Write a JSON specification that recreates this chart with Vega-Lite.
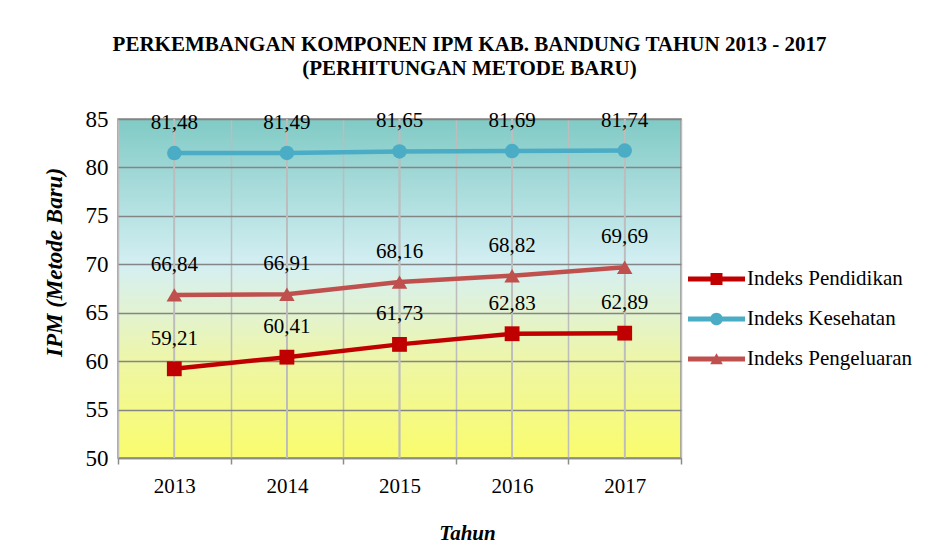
{
  "$schema": "https://vega.github.io/schema/vega-lite/v6.json",
  "width": 563,
  "height": 339,
  "autosize": {"type": "none"},
  "padding": {"left": 118, "top": 119, "right": 252, "bottom": 93},
  "background": "white",
  "config": {
    "font": "Liberation Serif",
    "locale": {"number": {"decimal": ",", "thousands": ".", "grouping": [3], "currency": ["", ""]}}
  },
  "title": {
    "text": ["PERKEMBANGAN KOMPONEN IPM KAB. BANDUNG TAHUN 2013 - 2017", "(PERHITUNGAN METODE BARU)"],
    "font": "Liberation Serif",
    "fontSize": 21,
    "fontWeight": "bold",
    "color": "black",
    "anchor": "middle",
    "dx": 70,
    "offset": 29,
    "lineHeight": 24
  },
  "view": {
    "stroke": "#8C8C8C",
    "strokeWidth": 1.5,
    "fill": {
      "gradient": "linear",
      "x1": 0, "y1": 0, "x2": 0, "y2": 1,
      "stops": [
        {"offset": 0, "color": "#80CAC5"},
        {"offset": 0.43, "color": "#D4EFF3"},
        {"offset": 0.57, "color": "#E2F3D2"},
        {"offset": 0.72, "color": "#EEF6A4"},
        {"offset": 1, "color": "#FAFC6C"}
      ]
    }
  },
  "data": {
    "values": [
      {"year": "2013", "series": "Indeks Pendidikan", "value": 59.21},
      {"year": "2014", "series": "Indeks Pendidikan", "value": 60.41},
      {"year": "2015", "series": "Indeks Pendidikan", "value": 61.73},
      {"year": "2016", "series": "Indeks Pendidikan", "value": 62.83},
      {"year": "2017", "series": "Indeks Pendidikan", "value": 62.89},
      {"year": "2013", "series": "Indeks Kesehatan", "value": 81.48},
      {"year": "2014", "series": "Indeks Kesehatan", "value": 81.49},
      {"year": "2015", "series": "Indeks Kesehatan", "value": 81.65},
      {"year": "2016", "series": "Indeks Kesehatan", "value": 81.69},
      {"year": "2017", "series": "Indeks Kesehatan", "value": 81.74},
      {"year": "2013", "series": "Indeks Pengeluaran", "value": 66.84},
      {"year": "2014", "series": "Indeks Pengeluaran", "value": 66.91},
      {"year": "2015", "series": "Indeks Pengeluaran", "value": 68.16},
      {"year": "2016", "series": "Indeks Pengeluaran", "value": 68.82},
      {"year": "2017", "series": "Indeks Pengeluaran", "value": 69.69}
    ]
  },
  "encoding": {
    "x": {
      "field": "year",
      "type": "nominal",
      "scale": {"type": "band", "paddingInner": 0, "paddingOuter": 0},
      "axis": {
        "title": "Tahun",
        "titleFont": "Liberation Serif",
        "titleFontStyle": "italic",
        "titleFontWeight": "bold",
        "titleFontSize": 21,
        "titleColor": "black",
        "titleX": 349,
        "titlePadding": 26,
        "labelFont": "Liberation Serif",
        "labelFontSize": 21,
        "labelColor": "black",
        "labelAngle": 0,
        "labelPadding": 11,
        "tickSize": 6,
        "tickColor": "#8C8C8C",
        "tickWidth": 1.5,
        "tickBand": "extent",
        "grid": true,
        "gridColor": "#BDBDBD",
        "gridWidth": 1.5,
        "domainColor": "#8C8C8C",
        "domainWidth": 1.5
      }
    },
    "y": {
      "field": "value",
      "type": "quantitative",
      "scale": {"domain": [50, 85], "nice": false, "zero": false},
      "axis": {
        "values": [50, 55, 60, 65, 70, 75, 80, 85],
        "title": "IPM (Metode Baru)",
        "titleFont": "Liberation Serif",
        "titleFontStyle": "italic",
        "titleFontWeight": "bold",
        "titleFontSize": 23,
        "titleColor": "black",
        "titleY": 143,
        "titlePadding": 19,
        "labelFont": "Liberation Serif",
        "labelFontSize": 23,
        "labelColor": "black",
        "labelPadding": 10,
        "ticks": false,
        "domain": false,
        "grid": true,
        "gridColor": "#858585",
        "gridWidth": 1.5
      }
    }
  },
  "layer": [
    {
      "mark": {"type": "rule", "color": "#BDBDBD", "strokeWidth": 1.5},
      "encoding": {"y": null}
    },
    {
      "mark": {"type": "line", "strokeWidth": 4.5},
      "encoding": {
        "stroke": {
          "field": "series",
          "type": "nominal",
          "scale": {"domain": ["Indeks Kesehatan", "Indeks Pendidikan", "Indeks Pengeluaran"], "range": ["#4BACC6", "#C00000", "#C0504D"]},
          "legend": null
        }
      }
    },
    {
      "transform": [{"filter": "datum.series == 'Indeks Pendidikan'"}],
      "mark": {"type": "point", "filled": true, "opacity": 1, "size": 220, "shape": "square"},
      "encoding": {
        "fill": {
          "field": "series",
          "type": "nominal",
          "scale": {"domain": ["Indeks Pengeluaran", "Indeks Kesehatan", "Indeks Pendidikan"], "range": ["#C0504D", "#4BACC6", "#C00000"]},
          "legend": null
        }
      }
    },
    {
      "transform": [{"filter": "datum.series == 'Indeks Kesehatan'"}],
      "mark": {"type": "point", "filled": true, "opacity": 1, "size": 210, "shape": "circle"},
      "encoding": {"fill": {"field": "series", "type": "nominal", "legend": null}}
    },
    {
      "transform": [{"filter": "datum.series == 'Indeks Pengeluaran'"}],
      "mark": {"type": "point", "filled": true, "opacity": 1, "size": 240, "shape": "triangle-up"},
      "encoding": {"fill": {"field": "series", "type": "nominal", "legend": null}}
    },
    {
      "mark": {"type": "text", "dy": -30, "fontSize": 21, "font": "Liberation Serif", "color": "black"},
      "encoding": {
        "text": {"field": "value", "type": "quantitative", "format": ".2f"}
      }
    },
    {
      "transform": [{"filter": "datum.value < 0"}],
      "mark": {"type": "point", "filled": true, "opacity": 1, "size": 3249},
      "encoding": {
        "color": {
          "field": "series",
          "type": "nominal",
          "scale": {"domain": ["Indeks Pendidikan", "Indeks Kesehatan", "Indeks Pengeluaran"], "range": ["#C00000", "#4BACC6", "#C0504D"]},
          "legend": {
            "orient": "none", "legendX": 570, "legendY": 140, "title": null,
            "labelFont": "Liberation Serif", "labelFontSize": 21, "labelColor": "black", "labelLimit": 400,
            "symbolSize": 3249, "symbolStrokeWidth": 0, "labelOffset": 2,
            "rowPadding": 0, "clipHeight": 40, "padding": 0
          }
        },
        "shape": {
          "field": "series",
          "type": "nominal",
          "scale": {
            "domain": ["Indeks Pendidikan", "Indeks Kesehatan", "Indeks Pengeluaran"],
            "range": [
              "M-1,-0.085H1V0.085H-1Z M-0.21,-0.21H0.21V0.21H-0.21Z",
              "M-1,-0.085H1V0.085H-1Z M0.22,0 A0.22,0.22 0 1,1 -0.22,0 A0.22,0.22 0 1,1 0.22,0Z",
              "M-1,-0.085H1V0.085H-1Z M0,-0.2L0.22,0.18H-0.22Z"
            ]
          },
          "legend": {
            "orient": "none", "legendX": 570, "legendY": 140, "title": null,
            "labelFont": "Liberation Serif", "labelFontSize": 21, "labelColor": "black", "labelLimit": 400,
            "symbolSize": 3249, "symbolStrokeWidth": 0, "labelOffset": 2,
            "rowPadding": 0, "clipHeight": 40, "padding": 0
          }
        }
      }
    }
  ]
}
